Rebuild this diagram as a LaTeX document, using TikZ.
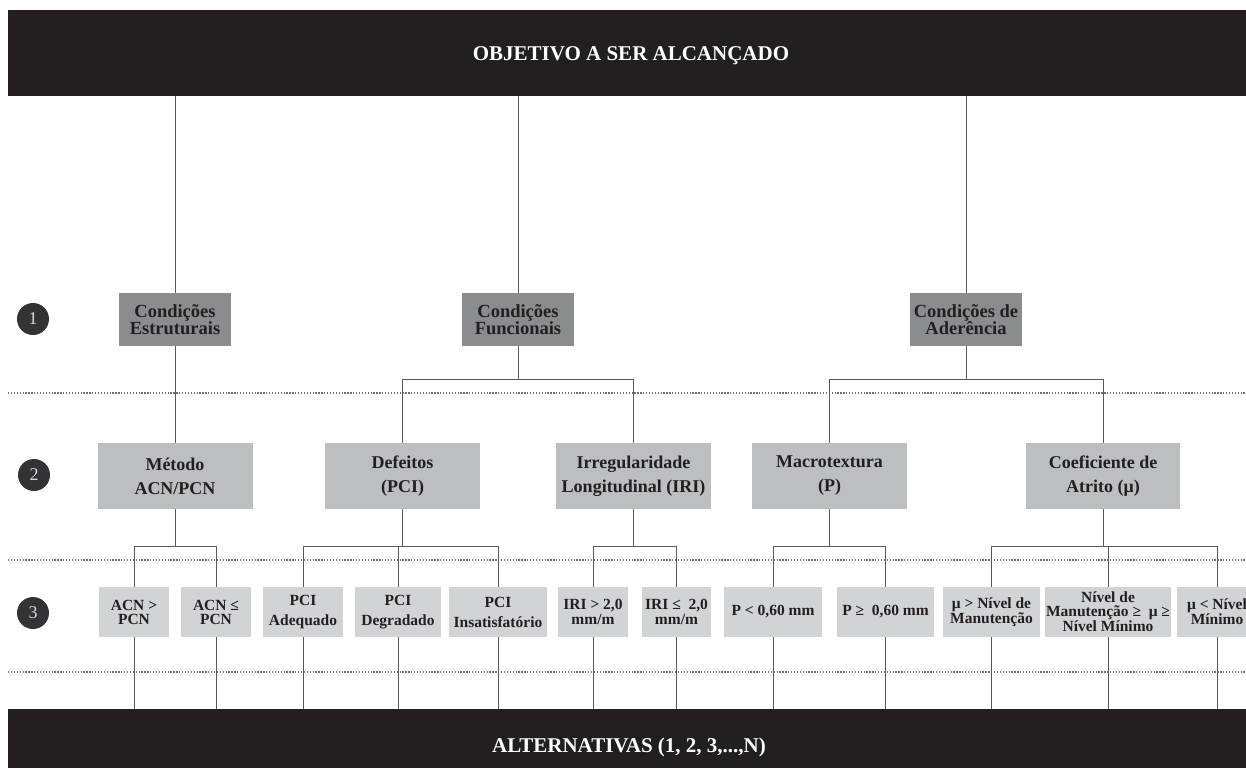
\documentclass[tikz,border=0pt]{standalone}
\usepackage{fontspec}
\setmainfont{Liberation Serif}
\definecolor{barc}{HTML}{231F20}
\definecolor{l1c}{HTML}{8B8C8E}
\definecolor{l2c}{HTML}{BCBEC0}
\definecolor{l3c}{HTML}{D1D3D4}
\definecolor{txtc}{HTML}{231F20}
\definecolor{linec}{HTML}{58595B}
\definecolor{dotc}{HTML}{6E6F71}
\definecolor{circc}{HTML}{333335}
\begin{document}
\begin{tikzpicture}[x=1pt,y=-1pt,
  bar/.style={fill=barc,draw=none,inner sep=0pt},
  bartext/.style={text=white,inner sep=0pt,font=\fontsize{21}{21}\selectfont\bfseries},
  lvlone/.style={fill=l1c,draw=none,inner sep=0pt,minimum width=112pt,minimum height=53pt,align=center,text=txtc,font=\fontsize{18.5}{17}\selectfont\bfseries},
  lvltwo/.style={fill=l2c,draw=none,inner sep=0pt,minimum width=155pt,minimum height=66pt,align=center,text=txtc,font=\fontsize{18}{24}\selectfont\bfseries},
  lvlthree/.style={fill=l3c,draw=none,inner sep=0pt,minimum height=50pt,align=center,text=txtc,font=\fontsize{15.5}{14}\selectfont\bfseries},
  numc/.style={circle,fill=circc,draw=none,inner sep=0pt,minimum size=32pt,text=white!85!black,font=\fontsize{18}{18}\selectfont},
  conn/.style={draw=linec,line width=1pt},
  dotline/.style={draw=dotc,line width=1.4pt,dash pattern=on 1.3pt off 1.6pt}]
\useasboundingbox (0,0) rectangle (1246,768);
% dotted separators
\coordinate (dl1) at (8,393);
\coordinate (dr1) at (1246,393);
\coordinate (dl2) at (8,560);
\coordinate (dr2) at (1246,560);
\coordinate (dl3) at (8,672);
\coordinate (dr3) at (1246,672);
\draw[dotline] (dl1) -- (dr1);
\draw[dotline] (dl2) -- (dr2);
\draw[dotline] (dl3) -- (dr3);
% bars
\node[bar,minimum width=1238pt,minimum height=86pt] (top) at (627,53) {};
\node[bartext] (toptxt) at (631,56) {OBJETIVO A SER ALCANÇADO};
\node[bar,minimum width=1238pt,minimum height=59pt] (bot) at (627,738.5) {};
\node[bartext] (bottxt) at (629,747) {ALTERNATIVAS (1, 2, 3,...,N)};
% numbers
\node[numc] (n1) at (33,319) {1};
\node[numc] (n2) at (34,475) {2};
\node[numc] (n3) at (33,613) {3};
% level 1
\node[lvlone] (es) at (175,319.5) {Condições\\Estruturais};
\node[lvlone] (fu) at (518,319.5) {Condições\\Funcionais};
\node[lvlone] (ad) at (966,319.5) {Condições de\\Aderência};
% level 2
\node[lvltwo] (me) at (175,476) {Método\\ACN/PCN};
\node[lvltwo] (de) at (402.5,476) {Defeitos\\(PCI)};
\node[lvltwo] (ir) at (633.5,476) {Irregularidade\\Longitudinal (IRI)};
\node[lvltwo] (ma) at (829.5,476) {Macrotextura\\(P)};
\node[lvltwo,minimum width=154pt] (co) at (1103,476) {Coeficiente de\\Atrito (μ)};
% level 3
\node[lvlthree,minimum width=70pt] (a1) at (134,612) {ACN >\\PCN};
\node[lvlthree,minimum width=70pt] (a2) at (216,612) {ACN ≤\\PCN};
\node[lvlthree,minimum width=80pt,font=\fontsize{15.5}{20}\selectfont\bfseries] (p1) at (303,612) {PCI\\Adequado};
\node[lvlthree,minimum width=86pt,font=\fontsize{15.5}{20}\selectfont\bfseries] (p2) at (398,612) {PCI\\Degradado};
\node[lvlthree,minimum width=98pt,font=\fontsize{15.5}{20}\selectfont\bfseries] (p3) at (498,612) {PCI\\Insatisfatório};
\node[lvlthree,minimum width=70pt,font=\fontsize{15.5}{15}\selectfont\bfseries] (i1) at (593,612) {IRI > 2,0\\mm/m};
\node[lvlthree,minimum width=69pt,font=\fontsize{15.5}{15}\selectfont\bfseries] (i2) at (676.5,612) {IRI ≤\ \ 2,0\\mm/m};
\node[lvlthree,minimum width=98pt] (m1) at (773,612) {P < 0,60 mm};
\node[lvlthree,minimum width=97pt] (m2) at (885.5,612) {P ≥\ \ 0,60 mm};
\node[lvlthree,minimum width=97pt] (c1) at (991.5,612) {μ > Nível de\\Manutenção};
\node[lvlthree,minimum width=126pt] (c2) at (1108,612) {Nível de\\Manutenção ≥\ \ μ ≥\\Nível Mínimo};
\node[lvlthree,minimum width=80pt] (c3) at (1217,612) {μ < Nível\\Mínimo};
% branch levels
\coordinate (b1) at (0,379);
\coordinate (b2) at (0,546);
% top to level 1
\draw[conn] (top.south -| es.north) -- (es.north);
\draw[conn] (top.south -| fu.north) -- (fu.north);
\draw[conn] (top.south -| ad.north) -- (ad.north);
% level 1 to level 2
\draw[conn] (es.south) -- (me.north);
\draw[conn] (fu.south) -- (fu.south |- b1);
\draw[conn] (de.north) -- (de.north |- b1) -- (ir.north |- b1) -- (ir.north);
\draw[conn] (ad.south) -- (ad.south |- b1);
\draw[conn] (ma.north) -- (ma.north |- b1) -- (co.north |- b1) -- (co.north);
% level 2 to level 3
\draw[conn] (me.south) -- (me.south |- b2);
\draw[conn] (a1.north) -- (a1.north |- b2) -- (a2.north |- b2) -- (a2.north);
\draw[conn] (de.south) -- (de.south |- b2);
\draw[conn] (p1.north) -- (p1.north |- b2) -- (p3.north |- b2) -- (p3.north);
\draw[conn] (p2.north) -- (p2.north |- b2);
\draw[conn] (ir.south) -- (ir.south |- b2);
\draw[conn] (i1.north) -- (i1.north |- b2) -- (i2.north |- b2) -- (i2.north);
\draw[conn] (ma.south) -- (ma.south |- b2);
\draw[conn] (m1.north) -- (m1.north |- b2) -- (m2.north |- b2) -- (m2.north);
\draw[conn] (co.south) -- (co.south |- b2);
\draw[conn] (c1.north) -- (c1.north |- b2) -- (c3.north |- b2) -- (c3.north);
\draw[conn] (c2.north) -- (c2.north |- b2);
% level 3 to alternatives
\foreach \n in {a1,a2,p1,p2,p3,i1,i2,m1,m2,c1,c2,c3}
  \draw[conn] (\n.south) -- (\n.south |- bot.north);
\end{tikzpicture}
\end{document}
